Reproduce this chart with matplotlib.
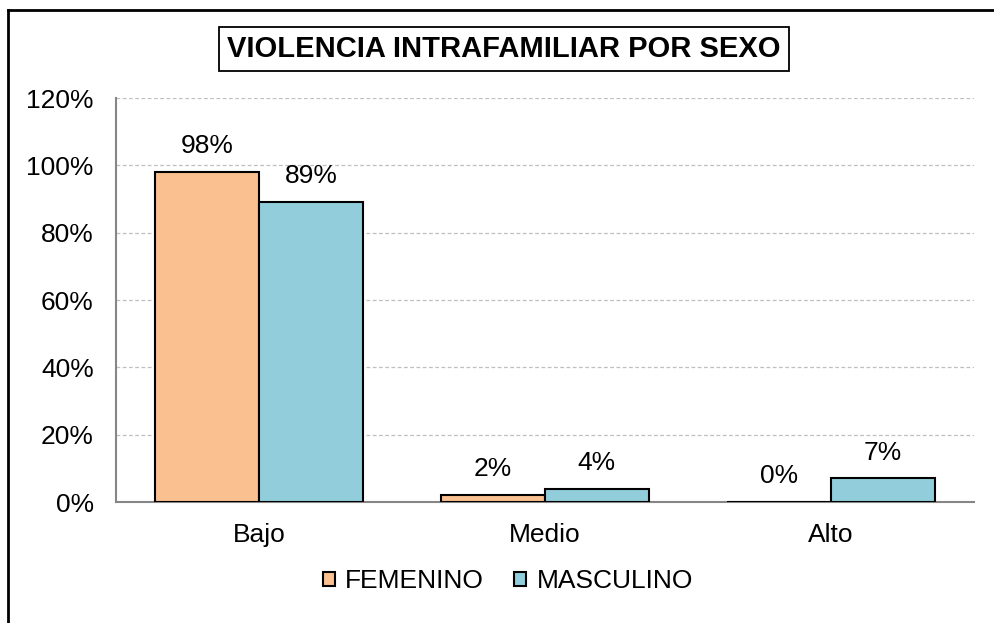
import matplotlib
matplotlib.use("Agg")
import matplotlib.pyplot as plt
import numpy as np
from matplotlib.lines import Line2D

# data
categories = ["Bajo", "Medio", "Alto"]
femenino = [0.98, 0.02, 0.00]
masculino = [0.89, 0.04, 0.07]
series_names = ["FEMENINO", "MASCULINO"]
yticks = [0, 0.2, 0.4, 0.6, 0.8, 1.0, 1.2]

plt.rcParams["font.family"] = ["Liberation Sans", "DejaVu Sans"]
FS = 19

fig = plt.figure(figsize=(9.95, 6.23), dpi=100)
ax = fig.add_axes([116 / 995, 121 / 623, 858 / 995, 404 / 623])

x = np.arange(len(categories))
w = 0.363
b1 = ax.bar(x - w / 2, femenino, w, color="#FAC090", edgecolor="black", linewidth=1.5,
            label=series_names[0], zorder=3)
b2 = ax.bar(x + w / 2, masculino, w, color="#92CDDC", edgecolor="black", linewidth=1.5,
            label=series_names[1], zorder=3)

for bars, vals in [(b1, femenino), (b2, masculino)]:
    for r, v in zip(bars, vals):
        ax.annotate(f"{v:.0%}", (r.get_x() + r.get_width() / 2, v),
                    xytext=(0, 10), textcoords="offset points",
                    ha="center", va="bottom", fontsize=FS)

ax.set_xlim(-0.5, 2.5)
ax.set_ylim(0, 1.2)
ax.set_yticks(yticks)
ax.set_yticklabels([f"{t:.0%}" for t in yticks])
ax.set_xticks(x)
ax.set_xticklabels(categories)
ax.tick_params(axis="both", length=0, labelsize=FS)
ax.tick_params(axis="y", pad=16)
ax.tick_params(axis="x", pad=15)
ax.yaxis.grid(True, linestyle=(0, (3, 2)), color="#BFBFBF", linewidth=0.9, zorder=0)
for s in ["top", "right"]:
    ax.spines[s].set_visible(False)
for s in ["left", "bottom"]:
    ax.spines[s].set_color("#868686")
    ax.spines[s].set_linewidth(1.5)

fig.text(504 / 995, 1 - 49 / 623, "VIOLENCIA INTRAFAMILIAR POR SEXO", ha="center", va="center",
         fontsize=21, fontweight="bold",
         bbox=dict(boxstyle="square,pad=0.28", facecolor="white", edgecolor="black", linewidth=1.3))

fig.legend(loc="center", bbox_to_anchor=(508 / 995, 1 - 581 / 623), ncol=2, frameon=False,
           fontsize=FS, handlelength=0.45, handleheight=0.45, handletextpad=0.4,
           columnspacing=1.15)

# outer chart border: only the top and left edges fall inside the picture
fig.add_artist(Line2D([8 / 995, 8 / 995], [0, 1 - 10 / 623], transform=fig.transFigure,
                      color="black", linewidth=2))
fig.add_artist(Line2D([8 / 995, 1], [1 - 10 / 623, 1 - 10 / 623], transform=fig.transFigure,
                      color="black", linewidth=2))

fig.savefig("out.png", dpi=100)
